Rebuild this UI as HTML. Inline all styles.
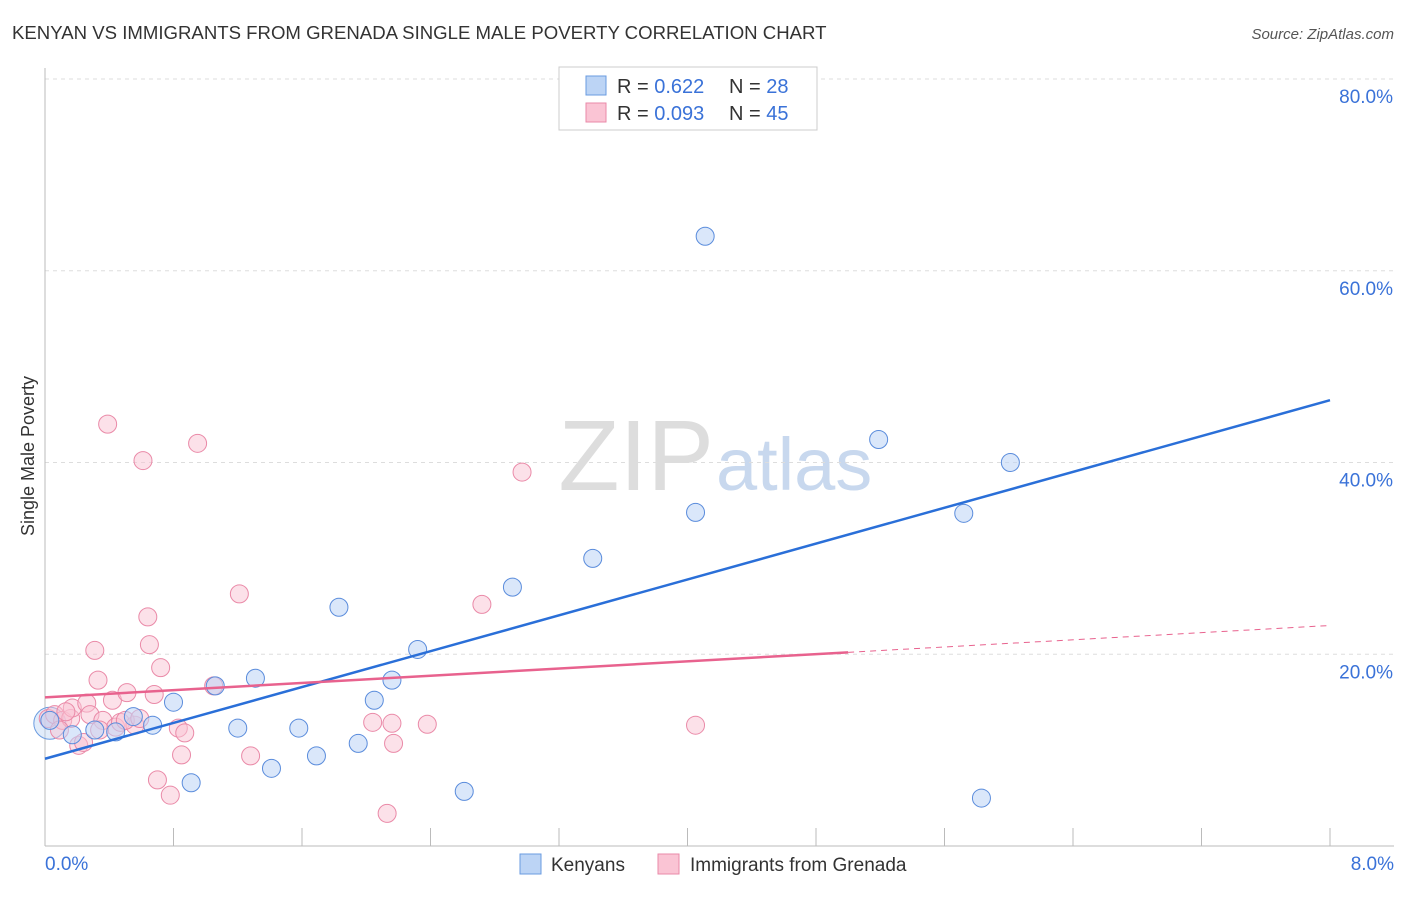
<!DOCTYPE html>
<html><head><meta charset="utf-8"><style>
body{margin:0;background:#fff;font-family:"Liberation Sans",sans-serif;}
svg text{font-family:"Liberation Sans",sans-serif;}
</style></head><body>
<svg id="chart" width="1406" height="892">
<text x="12" y="39" font-size="18.6" fill="#333">KENYAN VS IMMIGRANTS FROM GRENADA SINGLE MALE POVERTY CORRELATION CHART</text>
<text x="1394" y="39" font-size="15" fill="#555" font-style="italic" text-anchor="end">Source: ZipAtlas.com</text>
<text x="714" y="490" font-size="100" fill="#ddd" text-anchor="end" font-family="Liberation Serif">ZIP</text>
<text x="716" y="490" font-size="74" fill="#c8d8ee">atlas</text>
<g id="grid"></g><g id="axes"></g><g id="marks"></g>
<text transform="translate(34,456) rotate(-90)" font-size="18" fill="#333" text-anchor="middle">Single Male Poverty</text>
<g>
<rect x="559" y="67" width="258" height="63" fill="#fff" stroke="#ccc"/>
<rect x="586" y="76" width="20" height="19" fill="#bcd4f5" stroke="#6a9be0"/>
<rect x="586" y="103" width="20" height="19" fill="#fac4d4" stroke="#ea8aa8"/>
<text x="617" y="93" font-size="20" fill="#333">R = <tspan fill="#3a72d8">0.622</tspan></text>
<text x="729" y="93" font-size="20" fill="#333">N = <tspan fill="#3a72d8">28</tspan></text>
<text x="617" y="120" font-size="20" fill="#333">R = <tspan fill="#3a72d8">0.093</tspan></text>
<text x="729" y="120" font-size="20" fill="#333">N = <tspan fill="#3a72d8">45</tspan></text>
</g>
<g><rect x="520" y="854" width="21" height="20" fill="#bcd4f5" stroke="#6a9be0"/><text x="551" y="871" font-size="19" fill="#333">Kenyans</text></g>
<g><rect x="658" y="854" width="21" height="20" fill="#fac4d4" stroke="#ea8aa8"/><text x="690" y="871" font-size="19" fill="#333">Immigrants from Grenada</text></g>
</svg>
<script>
const blueX=[0.03,0.17,0.31,0.44,0.55,0.67,0.80,0.91,1.06,1.20,1.31,1.41,1.58,1.69,1.83,1.95,2.05,2.16,2.32,2.61,2.91,3.41,4.05,4.11,5.19,5.72,5.83,6.01];
const blueY=[13.1,11.6,12.1,11.9,13.5,12.6,15.0,6.6,16.7,12.3,17.5,8.1,12.3,9.4,24.9,10.7,15.2,17.3,20.5,5.7,27.0,30.0,34.8,63.6,42.4,34.7,5.0,40.0];
const pinkX=[0.02,0.06,0.11,0.16,0.17,0.21,0.24,0.26,0.28,0.31,0.33,0.36,0.39,0.42,0.44,0.47,0.51,0.56,0.61,0.64,0.65,0.68,0.70,0.72,0.78,0.83,0.85,0.87,0.95,1.05,1.21,1.28,2.04,2.13,2.16,2.17,2.38,2.72,2.97,4.05,0.09,0.13,0.34,0.50,0.59];
const pinkY=[13.3,13.7,13.1,13.3,14.4,10.5,10.8,14.9,13.7,20.4,17.3,13.1,44.0,15.2,12.4,12.9,16.0,12.6,40.2,23.9,21.0,15.8,6.9,18.6,5.3,12.3,9.5,11.8,42.0,16.7,26.3,9.4,12.9,3.4,12.8,10.7,12.7,25.2,39.0,12.6,12.1,14.0,12.1,13.1,13.3];
const blueLine=[9.1,46.5];
const pinkLine=[15.5,20.2,23.0];
const xTickLabels=["0.0%","8.0%"];
const yTicks=[20,40,60,80];
const yTickLabels=["20.0%","40.0%","60.0%","80.0%"];
const sx=v=>45+v*160.625, sy=v=>846-v*9.5875;
const NS="http://www.w3.org/2000/svg";
function mk(p,t,a){const e=document.createElementNS(NS,t);for(const k in a)e.setAttribute(k,a[k]);p.appendChild(e);return e;}
const grid=document.getElementById('grid'),axes=document.getElementById('axes'),marks=document.getElementById('marks');
yTicks.forEach((t,i)=>{
 const l=mk(grid,'line',{x1:45,x2:1394,y1:sy(t),y2:sy(t),stroke:'#ddd','stroke-dasharray':'4,4'});
 
 
 const tx=mk(axes,'text',{x:1393,y:sy(t)+24,'font-size':19,fill:'#3a72d8','text-anchor':'end'});tx.textContent=yTickLabels[i];
 
 
});
mk(axes,'line',{x1:45,x2:45,y1:68,y2:846,stroke:'#bbb'});
mk(axes,'line',{x1:45,x2:1394,y1:846,y2:846,stroke:'#bbb'});
for(let i=1;i<=10;i++){const x=sx(i*0.8);mk(axes,'line',{x1:x,x2:x,y1:828,y2:846,stroke:'#bbb'});}
[[0,'start',45],[8,'end',1394]].forEach((d,i)=>{const t=mk(axes,'text',{x:d[2],y:870,'font-size':19,fill:'#3a72d8','text-anchor':d[1]});t.textContent=xTickLabels[i];
 
 });
const big=mk(marks,'circle',{cx:sx(0.03),cy:sy(12.8),r:16,fill:'#bcd4f5','fill-opacity':0.45,stroke:'#6a9be0'});
pinkX.forEach((x,i)=>{const c=mk(marks,'circle',{cx:sx(x),cy:sy(pinkY[i]),r:9,fill:'#fac4d4','fill-opacity':0.5,stroke:'#ea8aa8','stroke-width':1});
 
 });
blueX.forEach((x,i)=>{const c=mk(marks,'circle',{cx:sx(x),cy:sy(blueY[i]),r:9,fill:'#bcd4f5','fill-opacity':0.55,stroke:'#5a8cdc','stroke-width':1});
 
 });
const bl=mk(marks,'line',{x1:sx(0),y1:sy(blueLine[0]),x2:sx(8),y2:sy(blueLine[1]),stroke:'#2a6fd8','stroke-width':2.5});


const pl=mk(marks,'line',{x1:sx(0),y1:sy(pinkLine[0]),x2:sx(5),y2:sy(pinkLine[1]),stroke:'#e8628e','stroke-width':2.5});


const pd=mk(marks,'line',{x1:sx(5),y1:sy(pinkLine[1]),x2:sx(8),y2:sy(pinkLine[2]),stroke:'#e8628e','stroke-width':1,'stroke-dasharray':'6,5'});


</script>
</body></html>
